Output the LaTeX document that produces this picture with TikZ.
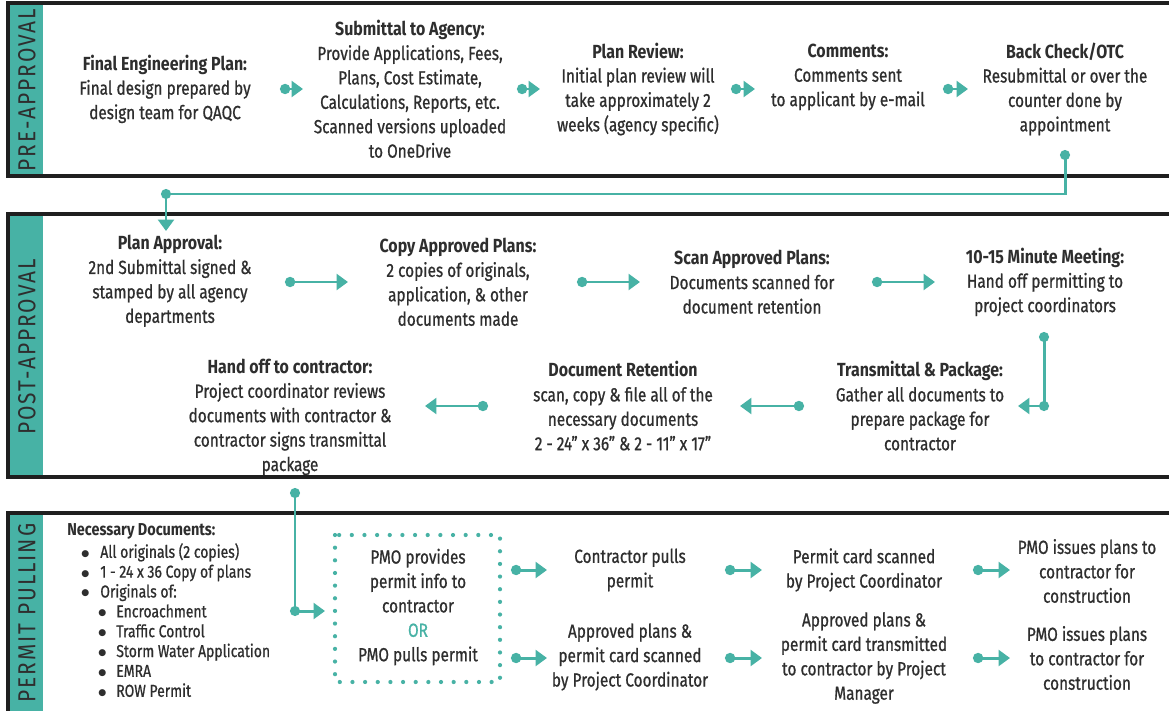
\documentclass[tikz,border=0pt]{standalone}
\usepackage{fontspec}
\setmainfont{Fira Sans}[FakeStretch=0.81, UprightFeatures={FakeBold=0.8}, BoldFeatures={FakeStretch=0.84}]
\newfontfamily\lblfont{Fira Sans}[FakeStretch=0.85, LetterSpace=8]
\newfontfamily\symfont{DejaVu Sans}
\usetikzlibrary{arrows.meta}
\definecolor{tealc}{HTML}{47B2A5}
\definecolor{ink}{HTML}{2E2E2E}
\newcommand{\bul}{\raisebox{0.9pt}{\symfont\fontsize{5.2}{5.2}\selectfont ●}}
\begin{document}
\begin{tikzpicture}[x=0.02cm,y=-0.02cm,
  txt/.style={align=center, text=ink, font=\fontsize{10.8}{13.9}\selectfont, inner sep=0pt},
  listtxt/.style={align=left, text=ink, font=\fontsize{9.8}{11.3}\selectfont, inner sep=0pt},
  bandframe/.style={draw=black!88, line width=2.2pt},
  strip/.style={fill=tealc},
  lbl/.style={rotate=90, text=ink, font=\fontsize{14}{14}\lblfont, inner sep=0pt},
  flow/.style={draw=tealc, line width=1.7pt, {Circle[length=5.8pt]}-{Triangle[length=6.5pt,width=9pt]}},
  link/.style={draw=tealc, line width=1.7pt},
  tip/.style={draw=tealc, line width=1.7pt, -{Triangle[length=6.5pt,width=9pt]}},
  dot/.style={fill=tealc},
  orbox/.style={draw=tealc, line width=2.4pt, line cap=round, dash pattern=on 0pt off 7.2pt}
]
\useasboundingbox (0,0) rectangle (1169,710);
\clip (0,0) rectangle (1169,710);
\fill[white] (0,0) rectangle (1169,710);

% ---------- bands ----------
\fill[strip] (8,3) rectangle (43,176);
\draw[bandframe] (8,3) rectangle (1200,176);
\fill[strip] (8,214) rectangle (43,477);
\draw[bandframe] (8,214) rectangle (1200,477);
\fill[strip] (8,513) rectangle (43,740);
\draw[bandframe] (8,513) rectangle (1200,740);

\node[lbl] (l1) at (27,90) {PRE-APPROVAL};
\node[lbl] (l2) at (27,347) {POST-APPROVAL};
\node[lbl] (l3) at (27,613) {PERMIT PULLING};

% ---------- pre-approval ----------
\node[txt] (fep) at (165,89) {\textbf{Final Engineering Plan:}\\Final design prepared by\\design team for QAQC};
\node[txt] (sub) at (410,89) {\textbf{Submittal to Agency:}\\Provide Applications, Fees,\\Plans, Cost Estimate,\\Calculations, Reports, etc.\\Scanned versions uploaded\\to OneDrive};
\node[txt] (rev) at (638,89) {\textbf{Plan Review:}\\Initial plan review will\\take approximately 2\\weeks (agency specific)};
\node[txt] (com) at (848,77) {\textbf{Comments:}\\Comments sent\\to applicant by e-mail};
\node[txt] (bc) at (1065,89) {\textbf{Back Check/OTC}\\Resubmittal or over the\\counter done by\\appointment};

\coordinate (a1s) at (280,89); \coordinate (a1e) at (303,89);
\coordinate (a2s) at (517,89); \coordinate (a2e) at (540,89);
\coordinate (a3s) at (731,89); \coordinate (a3e) at (755,89);
\coordinate (a4s) at (943,89); \coordinate (a4e) at (968,89);
\draw[flow] (a1s) -- (a1e);
\draw[flow] (a2s) -- (a2e);
\draw[flow] (a3s) -- (a3e);
\draw[flow] (a4s) -- (a4e);

% drop connector to post-approval
\coordinate (bcdot) at (1065,155);
\coordinate (c2) at (166,194);
\coordinate (pain) at (166,231);
\draw[link] (bcdot) |- (c2);
\draw[tip] (c2) -- (pain);
\fill[dot] (bcdot) circle (2.9pt);
\fill[dot] (c2) circle (2.9pt);

% ---------- post-approval ----------
\node[txt] (pa) at (170,281) {\textbf{Plan Approval:}\\2nd Submittal signed \&\\stamped by all agency\\departments};
\node[txt] (cap) at (458,282) {\textbf{Copy Approved Plans:}\\2 copies of originals,\\application, \& other\\documents made};
\node[txt] (sap) at (752,282) {\textbf{Scan Approved Plans:}\\Documents scanned for\\document retention};
\node[txt] (mtg) at (1045,282) {\textbf{10-15 Minute Meeting:}\\Hand off permitting to\\project coordinators};
\node[txt] (tp) at (920,406) {\textbf{Transmittal \& Package:}\\Gather all documents to\\prepare package for\\contractor};
\node[txt] (dr) at (623,406) {\textbf{Document Retention}\\scan, copy \& file all of the\\necessary documents\\2 - 24" x 36" \& 2 - 11" x 17"};
\node[txt] (ho) at (290,417) {\textbf{Hand off to contractor:}\\Project coordinator reviews\\documents with contractor \&\\contractor signs transmittal\\package};

\coordinate (b1s) at (285,282); \coordinate (b1e) at (348,282);
\coordinate (b2s) at (577,282); \coordinate (b2e) at (640,282);
\coordinate (b3s) at (872,282); \coordinate (b3e) at (935,282);
\draw[flow] (b1s) -- (b1e);
\draw[flow] (b2s) -- (b2e);
\draw[flow] (b3s) -- (b3e);

\coordinate (mdot) at (1044,337);
\coordinate (mcorner) at (1044,406);
\coordinate (tpin) at (1018,406);
\draw[link] (mdot) -- (mcorner);
\draw[tip] (mcorner) -- (tpin);
\fill[dot] (mdot) circle (2.9pt);
\fill[dot] (mcorner) circle (2.9pt);

\coordinate (b4s) at (804,406); \coordinate (b4e) at (740,406);
\coordinate (b5s) at (488,406); \coordinate (b5e) at (425,406);
\draw[flow] (b4s) -- (b4e);
\draw[flow] (b5s) -- (b5e);

% connector to permit pulling
\coordinate (hdot) at (295,493);
\coordinate (hcorner) at (295,611);
\coordinate (pmoin) at (325,611);
\draw[link] (hdot) -- (hcorner);
\draw[tip] (hcorner) -- (pmoin);
\fill[dot] (hdot) circle (2.9pt);
\fill[dot] (hcorner) circle (2.9pt);

% ---------- permit pulling ----------
\node[listtxt, anchor=north west] (docs) at (67,523) {\textbf{Necessary Documents:}\\[1.5pt]
\hspace*{0.28cm}\makebox[0.38cm][l]{\bul}All originals (2 copies)\\
\hspace*{0.28cm}\makebox[0.38cm][l]{\bul}1 - 24 x 36 Copy of plans\\
\hspace*{0.28cm}\makebox[0.38cm][l]{\bul}Originals of:\\
\hspace*{0.62cm}\makebox[0.36cm][l]{\bul}Encroachment\\
\hspace*{0.62cm}\makebox[0.36cm][l]{\bul}Traffic Control\\
\hspace*{0.62cm}\makebox[0.36cm][l]{\bul}Storm Water Application\\
\hspace*{0.62cm}\makebox[0.36cm][l]{\bul}EMRA\\
\hspace*{0.62cm}\makebox[0.36cm][l]{\bul}ROW Permit};

\draw[orbox] (335,535) rectangle (500,682);
\node[txt] (pmo) at (418,607) {PMO provides\\permit info to\\contractor\\\textcolor{tealc}{OR}\\PMO pulls permit};

\node[txt] (cpp) at (630,570) {Contractor pulls\\permit};
\node[txt] (aps) at (630,657) {Approved plans \&\\permit card scanned\\by Project Coordinator};
\node[txt] (pcs) at (864,570) {Permit card scanned\\by Project Coordinator};
\node[txt] (apt) at (864,658) {Approved plans \&\\permit card transmitted\\to contractor by Project\\Manager};
\node[txt] (pi1) at (1087,571) {PMO issues plans to\\contractor for\\construction};
\node[txt] (pi2) at (1087,658) {PMO issues plans\\to contractor for\\construction};

\coordinate (d1s) at (511,570); \coordinate (d1e) at (547,570);
\coordinate (d2s) at (511,658); \coordinate (d2e) at (547,658);
\coordinate (d3s) at (725,570); \coordinate (d3e) at (762,570);
\coordinate (d4s) at (725,658); \coordinate (d4e) at (762,658);
\coordinate (d5s) at (973,570); \coordinate (d5e) at (1010,570);
\coordinate (d6s) at (973,658); \coordinate (d6e) at (1010,658);
\draw[flow] (d1s) -- (d1e);
\draw[flow] (d2s) -- (d2e);
\draw[flow] (d3s) -- (d3e);
\draw[flow] (d4s) -- (d4e);
\draw[flow] (d5s) -- (d5e);
\draw[flow] (d6s) -- (d6e);
\end{tikzpicture}
\end{document}
